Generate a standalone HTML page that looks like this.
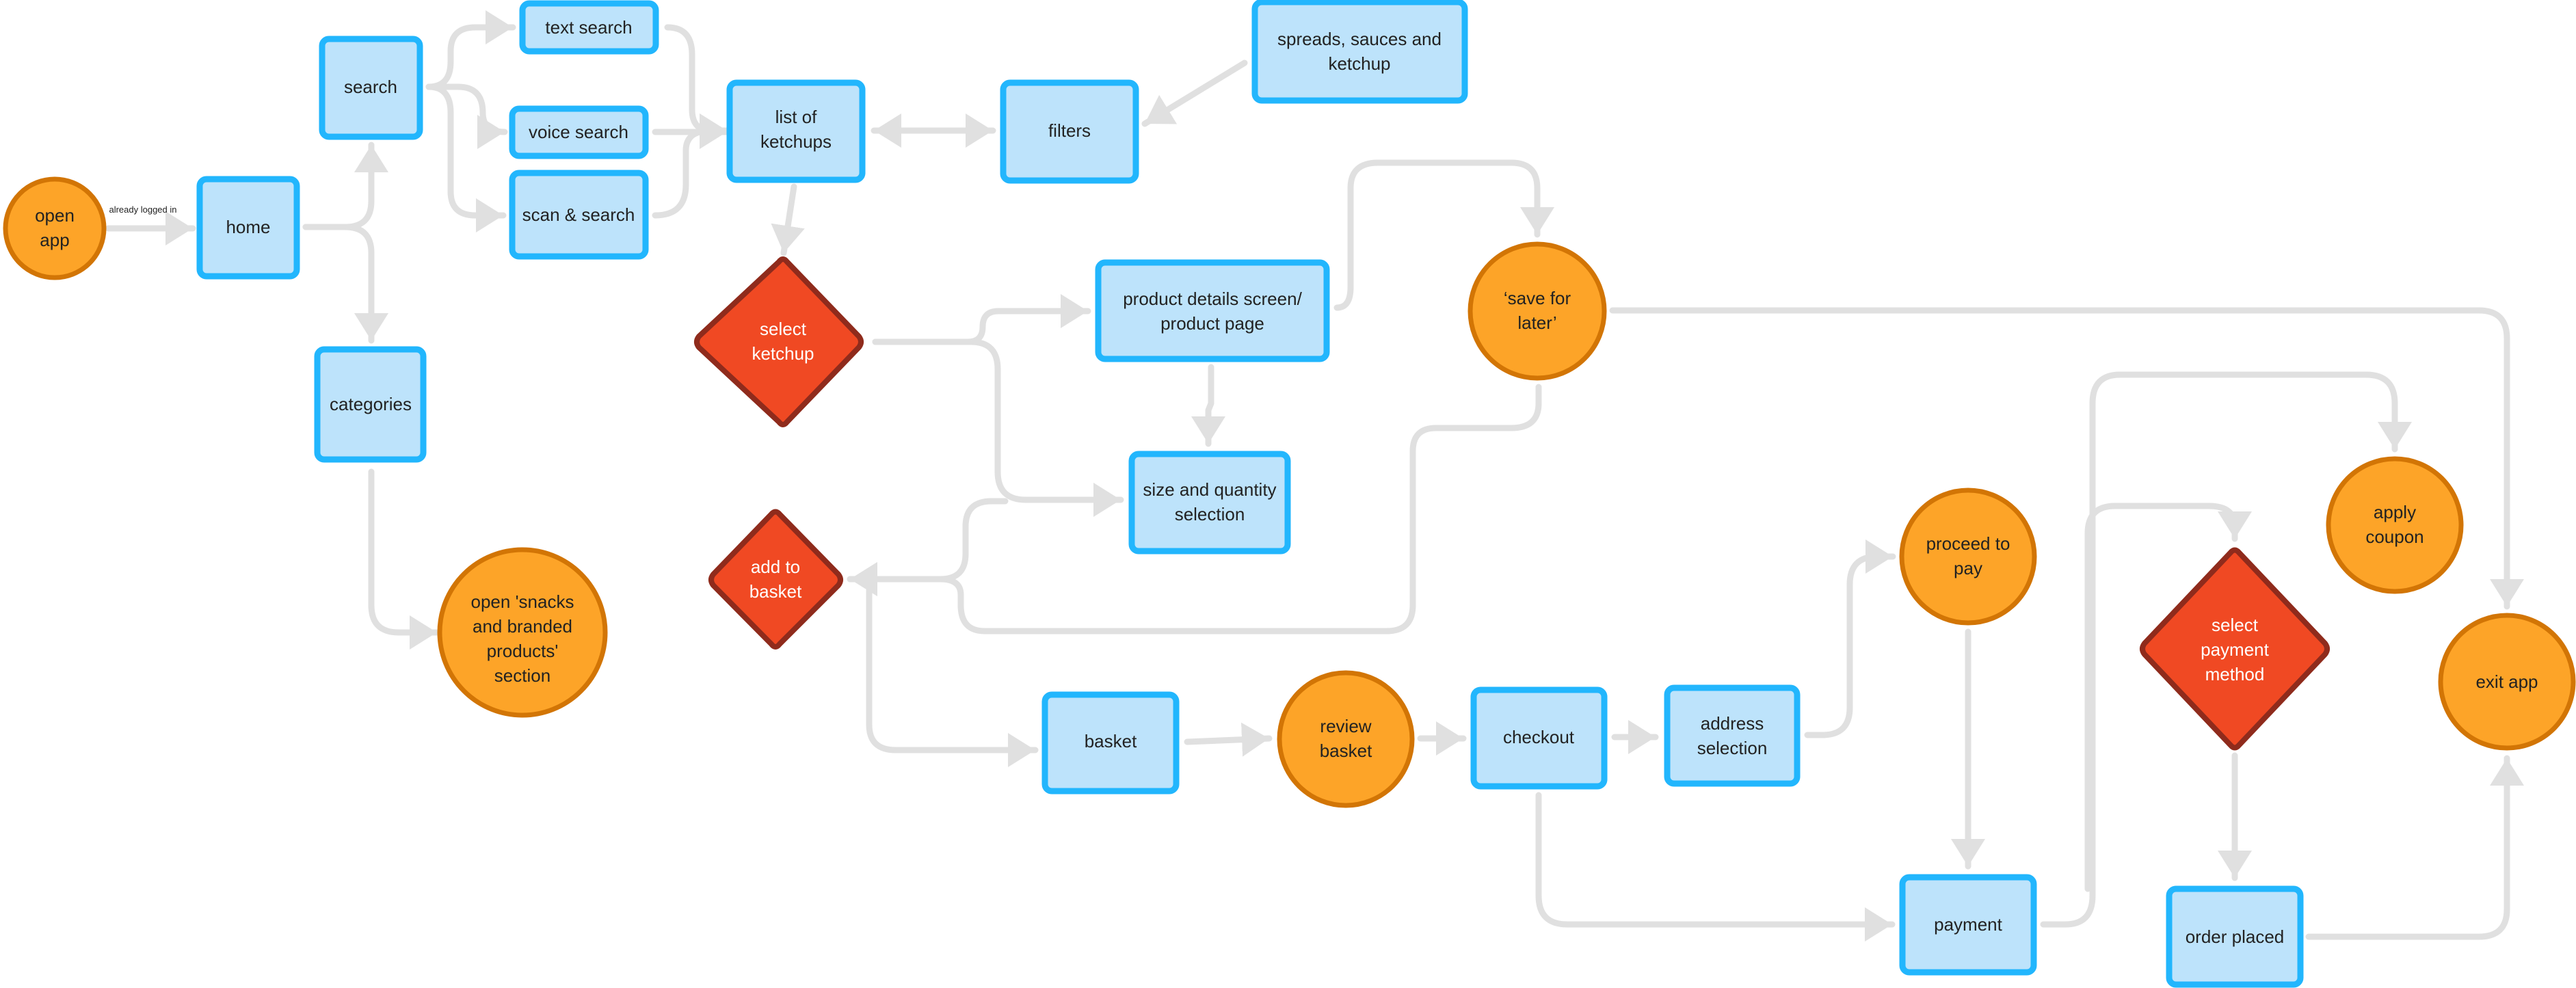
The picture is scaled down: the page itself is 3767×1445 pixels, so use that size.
<!DOCTYPE html>
<html><head><meta charset="utf-8"><style>
html,body{margin:0;padding:0;background:#fff;}
svg{display:block;}
text{font-family:"Liberation Sans",sans-serif;font-size:26px;fill:#222;text-anchor:middle;}
.w{fill:#fff;}
.c{fill:none;stroke:#e0e0e0;stroke-width:9;stroke-linecap:round;stroke-linejoin:round;}
.b{fill:#bde3fb;stroke:#22b6fd;stroke-width:9;}
.o{fill:#fda428;stroke:#d27505;stroke-width:7;}
.d{fill:#f04923;stroke:#8f2b1c;stroke-width:8;stroke-linejoin:round;}
</style></head><body>
<svg width="3767" height="1445" viewBox="0 0 3767 1445" xmlns="http://www.w3.org/2000/svg">
<defs>
<marker id="a" markerUnits="userSpaceOnUse" markerWidth="42" markerHeight="50" refX="40" refY="25" orient="auto-start-reverse" viewBox="0 0 42 50">
<path d="M0,0 L40,25 L0,50 z" fill="#e0e0e0"/></marker>
</defs>
<g class="c" marker-end="url(#a)">
<path d="M158,334 H282"/>
<path d="M447,332 H505 Q543,332 543,294 V212"/>
<path d="M447,332 H505 Q543,332 543,370 V498"/>
<path d="M627,127 Q659,127 659,90 V75 Q659,40 695,40 H750"/>
<path d="M627,127 H670 Q706,127 706,165 Q706,193 738,193"/>
<path d="M627,127 Q659,127 659,165 V280 Q659,315 695,315 H736"/>
<path d="M976,40 Q1012,40 1012,80 V160 Q1012,191 1040,191 H1063"/>
<path d="M958,193 H1063"/>
<path d="M958,315 Q1003,315 1003,270 V220 Q1003,191 1040,191 H1063"/>
<path d="M1278,191 H1452" marker-start="url(#a)"/>
<path d="M1820,92 L1674,181"/>
<path d="M1161,273 L1146,370"/>
<path d="M1280,500 H1415 Q1437,500 1437,478 Q1437,455 1460,455 H1591"/>
<path d="M1280,500 H1420 Q1459,500 1459,540 V690 Q1459,731 1500,731 H1639"/>
<path d="M1771,537 V590 L1767,600 V649"/>
<path d="M1955,450 Q1975,450 1975,420 V275 Q1975,238 2015,238 H2210 Q2248,238 2248,275 V343"/>
<path d="M1470,733 H1450 Q1412,733 1412,770 V810 Q1412,847 1375,847 H1243"/>
<path d="M2250,566 V590 Q2250,626 2210,626 H2100 Q2066,626 2066,660 V885 Q2066,923 2028,923 H1440 Q1405,923 1405,885 V870 Q1405,847 1375,847 H1243"/>
<path d="M1271,860 V1060 Q1271,1097 1310,1097 H1514"/>
<path d="M1736,1085 L1856,1080"/>
<path d="M2077,1080 H2140"/>
<path d="M2361,1078 H2421"/>
<path d="M2250,1163 V1310 Q2250,1352 2292,1352 H2767"/>
<path d="M2643,1075 H2665 Q2705,1075 2705,1035 V855 Q2705,814 2745,814 H2768"/>
<path d="M2878,924 V1267"/>
<path d="M2988,1352 H3020 Q3060,1352 3060,1310 V590 Q3060,548 3100,548 H3460 Q3502,548 3502,590 V657"/>
<path d="M3053,1300 V780 Q3053,740 3093,740 H3230 Q3268,740 3268,770 V788"/>
<path d="M3268,1105 V1284"/>
<path d="M3376,1370 H3625 Q3666,1370 3666,1330 V1109"/>
<path d="M2358,454 H3625 Q3666,454 3666,495 V887"/>
<path d="M543,690 V885 Q543,925 583,925 H639"/>
</g>
<text x="209" y="311" style="font-size:13px">already logged in</text>

<!-- boxes -->
<rect class="b" x="292" y="262" width="142" height="142" rx="10"/><text x="363" y="341">home</text>
<rect class="b" x="471" y="57" width="143" height="143" rx="10"/><text x="542" y="136">search</text>
<rect class="b" x="464" y="511" width="155" height="161" rx="10"/><text x="542" y="600">categories</text>
<rect class="b" x="764" y="5" width="195" height="70" rx="10"/><text x="861" y="49">text search</text>
<rect class="b" x="749" y="159" width="195" height="69" rx="10"/><text x="846" y="202">voice search</text>
<rect class="b" x="749" y="253" width="195" height="122" rx="10"/><text x="846" y="323">scan &amp; search</text>
<rect class="b" x="1067" y="121" width="194" height="142" rx="10"/><text x="1164" y="180">list of</text><text x="1164" y="216">ketchups</text>
<rect class="b" x="1467" y="121" width="194" height="143" rx="10"/><text x="1564" y="200">filters</text>
<rect class="b" x="1835" y="3" width="307" height="144" rx="10"/><text x="1988" y="66">spreads, sauces and</text><text x="1988" y="102">ketchup</text>
<rect class="b" x="1606" y="384" width="334" height="141" rx="10"/><text x="1773" y="446">product details screen/</text><text x="1773" y="482">product page</text>
<rect class="b" x="1655" y="664" width="228" height="142" rx="10"/><text x="1769" y="725">size and quantity</text><text x="1769" y="761">selection</text>
<rect class="b" x="1528" y="1016" width="192" height="141" rx="10"/><text x="1624" y="1093">basket</text>
<rect class="b" x="2155" y="1009" width="191" height="141" rx="10"/><text x="2250" y="1087">checkout</text>
<rect class="b" x="2438" y="1006" width="190" height="140" rx="10"/><text x="2533" y="1067">address</text><text x="2533" y="1103">selection</text>
<rect class="b" x="2782" y="1283" width="192" height="139" rx="10"/><text x="2878" y="1361">payment</text>
<rect class="b" x="3172" y="1300" width="192" height="140" rx="10"/><text x="3268" y="1379">order placed</text>

<!-- circles -->
<circle class="o" cx="80" cy="334" r="72"/><text x="80" y="324">open</text><text x="80" y="360">app</text>
<circle class="o" cx="764" cy="925" r="121"/><text x="764" y="889">open 'snacks</text><text x="764" y="925">and branded</text><text x="764" y="961">products'</text><text x="764" y="997" dy="-0">section</text>
<circle class="o" cx="2248" cy="455" r="98"/><text x="2248" y="445">‘save for</text><text x="2248" y="481">later’</text>
<circle class="o" cx="1968" cy="1081" r="97"/><text x="1968" y="1071">review</text><text x="1968" y="1107">basket</text>
<circle class="o" cx="2878" cy="814" r="97"/><text x="2878" y="804">proceed to</text><text x="2878" y="840">pay</text>
<circle class="o" cx="3502" cy="768" r="97"/><text x="3502" y="758">apply</text><text x="3502" y="794">coupon</text>
<circle class="o" cx="3666" cy="997" r="97"/><text x="3666" y="1006">exit app</text>

<!-- diamonds -->
<path class="d" d="M1145,383 Q1151,375 1157,383 L1262,492 Q1268,500 1262,508 L1157,617 Q1151,625 1145,617 L1028,508 Q1022,500 1028,492 Z" transform="translate(-6,0)"/>
<text class="w" x="1145" y="490">select</text><text class="w" x="1145" y="526">ketchup</text>
<path class="d" d="M1128,752 Q1134,745 1140,752 L1226,840 Q1232,848 1226,856 L1140,942 Q1134,950 1128,942 L1043,856 Q1037,848 1043,840 Z"/>
<text class="w" x="1134" y="838">add to</text><text class="w" x="1134" y="874">basket</text>
<path class="d" d="M3262,808 Q3268,801 3274,808 L3400,941 Q3406,949 3400,957 L3274,1090 Q3268,1097 3262,1090 L3136,957 Q3130,949 3136,941 Z"/>
<text class="w" x="3268" y="923">select</text><text class="w" x="3268" y="959">payment</text><text class="w" x="3268" y="995">method</text>
</svg>
</body></html>
